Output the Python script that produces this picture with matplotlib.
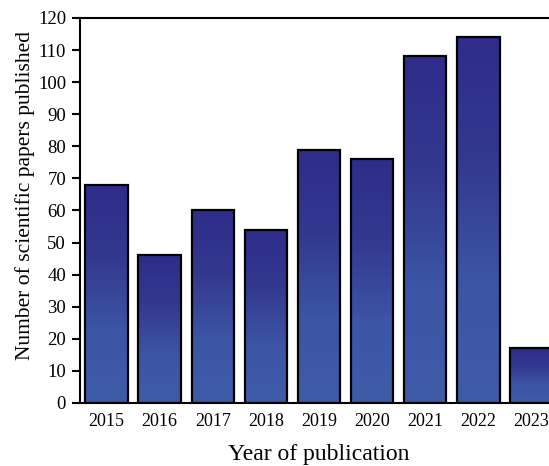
import numpy as np
import matplotlib.pyplot as plt
from matplotlib.colors import LinearSegmentedColormap

plt.rcParams['font.family'] = ['Liberation Serif', 'DejaVu Serif']

years = [2015, 2016, 2017, 2018, 2019, 2020, 2021, 2022, 2023]
papers = [68, 46, 60, 54, 79, 76, 108, 114, 17]

# 柱子上深下浅的渐变
cmap = LinearSegmentedColormap.from_list('bar_grad', ['#3f5ca9', '#3c55a4', '#33398f', '#2f2c8a'])
grad = np.linspace(0, 1, 256).reshape(-1, 1)

fig = plt.figure(figsize=(5.49, 4.66), dpi=100)
ax = fig.add_axes([0.1457, 0.1352, 0.8707, 0.8262])

w = 0.8
for x, h in zip(years, papers):
    ax.imshow(grad, cmap=cmap, origin='lower', aspect='auto',
              extent=(x - w / 2, x + w / 2, 0, h), zorder=2)
ax.bar(years, papers, width=w, facecolor='none', edgecolor='black', linewidth=1.6, zorder=3)

ax.set_xlim(2014.5, 2023.5)
ax.set_ylim(0, 120)
ax.set_xticks(years)
ax.set_yticks(range(0, 121, 10))
ax.tick_params(axis='x', direction='in', length=6, width=1.5, labelsize=13, pad=7)
ax.tick_params(axis='y', direction='out', length=6, width=1.5, labelsize=13.5, pad=4)
for s in ax.spines.values():
    s.set_linewidth(1.5)

ax.set_xlabel('Year of publication', fontsize=17, labelpad=10)
ax.set_ylabel('Number of scientific papers published', fontsize=15.5)
ax.yaxis.set_label_coords(-0.094, 0.54)

fig.savefig('out.png', dpi=100)
